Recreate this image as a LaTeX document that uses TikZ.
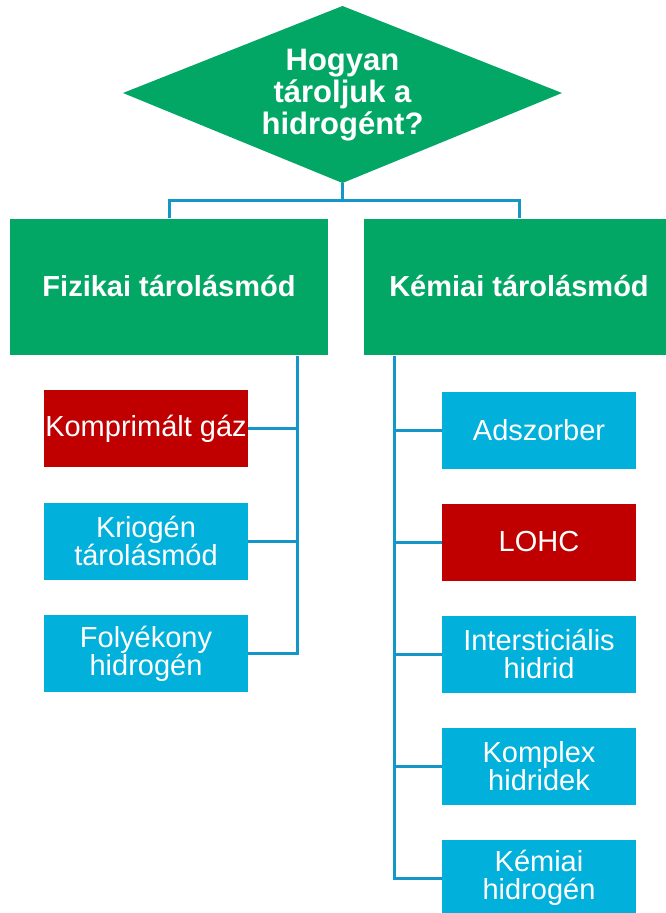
\documentclass[tikz,border=0pt]{standalone}
\usepackage{fontspec}
\setmainfont{Liberation Sans}
\definecolor{hgreen}{RGB}{2,167,102}
\definecolor{hblue}{RGB}{1,176,219}
\definecolor{hred}{RGB}{192,0,0}
\definecolor{hline}{RGB}{21,150,200}
\tikzset{
  question/.style={text=white, align=center, font=\fontsize{31}{32}\selectfont\bfseries},
  catbox/.style={fill=hgreen, text=white, minimum height=136pt, inner sep=0pt,
    font=\fontsize{29}{28}\selectfont\bfseries},
  leafbox/.style={text=white, minimum height=77pt, inner sep=0pt, align=center,
    font=\fontsize{29}{28}\selectfont},
  leftleaf/.style={leafbox, minimum width=204pt},
  rightleaf/.style={leafbox, minimum width=194pt},
  conn/.style={draw=hline, line width=3pt}
}
\begin{document}
\begin{tikzpicture}[x=1pt,y=-1pt]
  \clip (0,0) rectangle (666,913);
  \fill[white] (0,0) rectangle (666,913);

  % decision diamond
  \fill[hgreen] (342.5,6) -- (562,93) -- (342.5,183) -- (123,93) -- cycle;
  \coordinate (qbot) at (342.5,183);
  \node[question] (q) at (342.5,95) {Hogyan\\tároljuk a\\hidrogént?};

  % the two storage families
  \node[catbox, minimum width=318pt] (fiz) at (169,286.5) {Fizikai tárolásmód};
  \node[catbox, minimum width=310pt] (kem) at (519,286.5) {Kémiai tárolásmód};

  % physical storage
  \node[leftleaf, fill=hred]  (komp) at (146,428.5) {Komprimált gáz};
  \node[leftleaf, fill=hblue] (krio) at (146,541)   {Kriogén\\tárolásmód};
  \node[leftleaf, fill=hblue] (foly) at (146,653.5) {Folyékony\\hidrogén};

  % chemical storage
  \node[rightleaf, fill=hblue] (adsz) at (539,430) {Adszorber};
  \node[rightleaf, fill=hred]  (lohc) at (539,542) {LOHC};
  \node[rightleaf, fill=hblue] (inter) at (539,654) {Intersticiális\\hidrid};
  \node[rightleaf, fill=hblue] (kompl) at (539,766) {Komplex\\hidridek};
  \node[rightleaf, fill=hblue] (kemh) at (539,878) {Kémiai\\hidrogén};

  % question -> families
  \coordinate (split) at (342.5,200);
  \draw[conn] (qbot) -- (split);
  \draw[conn] (split) -| (fiz.north);
  \draw[conn] (split) -| (kem.north);

  % physical branch (trunk on the right)
  \coordinate (ltop) at (297,356);
  \draw[conn] (ltop) |- (komp.east);
  \draw[conn] (ltop) |- (krio.east);
  \draw[conn] (ltop) |- (foly.east);

  % chemical branch (trunk on the left)
  \coordinate (rtop) at (394,356);
  \draw[conn] (rtop) |- (adsz.west);
  \draw[conn] (rtop) |- (lohc.west);
  \draw[conn] (rtop) |- (inter.west);
  \draw[conn] (rtop) |- (kompl.west);
  \draw[conn] (rtop) |- (kemh.west);
\end{tikzpicture}
\end{document}
